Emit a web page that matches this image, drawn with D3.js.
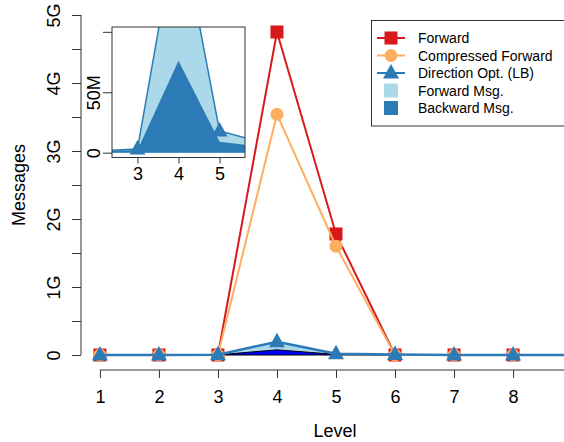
<!DOCTYPE html>
<html>
<head>
<meta charset="utf-8">
<script src="https://cdn.jsdelivr.net/npm/d3@7"></script>
<style>
  body { margin: 0; background: #fff; }
  svg { display: block; font-family: "Liberation Sans", Arial, sans-serif; }
</style>
</head>
<body>
<svg id="chart" width="564" height="442"></svg>
<script>
// values (messages per BFS level)
var levels = [1, 2, 3, 4, 5, 6, 7, 8, 9];
var forward = [0, 0, 0, 4.75e9, 1.78e9, 0, 0, 0, 0];
var compressed = [0, 0, 0, 3.54e9, 1.6e9, 0, 0, 0, 0];
var dirOpt = [1e6, 1.5e6, 3e6, 196e6, 18e6, 9e6, 0, 0, 0];
var fwdMsg = [0, 0, 1e6, 120e6, 9e6, 4e6, 0, 0, 0];
var bwdMsg = [1e6, 1.5e6, 2e6, 76e6, 9e6, 5e6, 0, 0, 0];

var mainXTicks = [1, 2, 3, 4, 5, 6, 7, 8];
var mainYTicks = [0, 0.5e9, 1e9, 1.5e9, 2e9, 2.5e9, 3e9, 3.5e9, 4e9, 4.5e9, 5e9];
var mainYLabels = { 0: "0", 1e9: "1G", 2e9: "2G", 3e9: "3G", 4e9: "4G", 5e9: "5G" };
var insetXTicks = [3, 4, 5];
var insetYTicks = [0, 50e6, 100e6];
var insetYLabels = { 0: "0", 50e6: "50M" };

var legendItems = [
  { label: "Forward", color: "#D7191C", kind: "square" },
  { label: "Compressed Forward", color: "#FDAE61", kind: "circle" },
  { label: "Direction Opt. (LB)", color: "#2C7BB6", kind: "triangle" },
  { label: "Forward Msg.", color: "#ABD9E9", kind: "fill" },
  { label: "Backward Msg.", color: "#2C7BB6", kind: "fill" }
];

var svg = d3.select("#chart");
var axisColor = "#333";

var x = d3.scaleLinear().domain([0.68, 9.32]).range([81, 591]);
var y = d3.scaleLinear().domain([-0.2e9, 5.2e9]).range([368.6, 1.4]);

var rows = levels.map(function (l, i) {
  return { level: l, fwd: forward[i], comp: compressed[i], dir: dirOpt[i], fm: fwdMsg[i], bm: bwdMsg[i] };
});
var stacked = d3.stack().keys(["bm", "fm"])(rows);

var triPath = "M0,-9L8,5.5L-8,5.5Z";

function drawSeries(g, xs, ys, key, color, width, kind, size) {
  g.append("path")
      .datum(rows)
      .attr("fill", "none")
      .attr("stroke", color)
      .attr("stroke-width", width)
      .attr("d", d3.line().x(function (d) { return xs(d.level); }).y(function (d) { return ys(d[key]); }));
  var pts = g.selectAll(null).data(rows).enter();
  if (kind === "square") {
    pts.append("rect")
        .attr("x", function (d) { return xs(d.level) - size / 2; })
        .attr("y", function (d) { return ys(d[key]) - size / 2; })
        .attr("width", size).attr("height", size)
        .attr("fill", color);
  } else if (kind === "circle") {
    pts.append("circle")
        .attr("cx", function (d) { return xs(d.level); })
        .attr("cy", function (d) { return ys(d[key]); })
        .attr("r", size / 2)
        .attr("fill", color);
  } else {
    pts.append("path")
        .attr("d", triPath)
        .attr("transform", function (d) { return "translate(" + xs(d.level) + "," + ys(d[key]) + ")"; })
        .attr("fill", color);
  }
}

function drawAreas(g, xs, ys, darkFill, darkStroke) {
  g.append("path")
      .datum(stacked[1])
      .attr("fill", "#ABD9E9")
      .attr("d", d3.area()
          .x(function (d) { return xs(d.data.level); })
          .y0(ys(0))
          .y1(function (d) { return ys(d[1]); }));
  g.append("path")
      .datum(stacked[0])
      .attr("fill", darkFill)
      .attr("stroke", darkStroke)
      .attr("stroke-width", 1)
      .attr("d", d3.area()
          .x(function (d) { return xs(d.data.level); })
          .y0(ys(0))
          .y1(function (d) { return ys(d[1]); }));
}

// main plot
var main = svg.append("g");
drawAreas(main, x, y, "#0000FF", "#000");
drawSeries(main, x, y, "fwd", "#D7191C", 2, "square", 13);
drawSeries(main, x, y, "comp", "#FDAE61", 2, "circle", 13);
drawSeries(main, x, y, "dir", "#2C7BB6", 2.5, "triangle", 0);

// main axes
var yAxis = svg.append("g")
    .attr("transform", "translate(81,0)")
    .call(d3.axisLeft(y).tickValues(mainYTicks).tickSize(9).tickPadding(0)
        .tickFormat(function (d) { return mainYLabels[d] || ""; }));
yAxis.select(".domain").remove();
yAxis.append("line")
    .attr("x1", 0).attr("x2", 0)
    .attr("y1", y(0)).attr("y2", y(5e9))
    .attr("stroke", axisColor);
yAxis.selectAll(".tick line").attr("stroke", axisColor);
yAxis.selectAll(".tick text")
    .attr("x", 0).attr("y", -21.5).attr("dy", 0)
    .attr("transform", "rotate(-90)")
    .style("text-anchor", "middle")
    .style("font-size", "18px")
    .style("font-family", "Liberation Sans, Arial, sans-serif")
    .attr("fill", "#000");

var xAxis = svg.append("g")
    .attr("transform", "translate(0,370)")
    .call(d3.axisBottom(x).tickValues(mainXTicks).tickSize(8).tickFormat(d3.format("d")));
xAxis.select(".domain").remove();
xAxis.append("line")
    .attr("x1", x(1)).attr("x2", x(9))
    .attr("y1", 0).attr("y2", 0)
    .attr("stroke", axisColor);
xAxis.selectAll(".tick line").attr("stroke", axisColor);
xAxis.selectAll(".tick text")
    .attr("y", 32.5).attr("dy", 0)
    .style("font-size", "18px")
    .style("font-family", "Liberation Sans, Arial, sans-serif")
    .attr("fill", "#000");

svg.append("text")
    .attr("x", 335).attr("y", 436.5)
    .attr("text-anchor", "middle")
    .style("font-size", "18px")
    .text("Level");

svg.append("text")
    .attr("transform", "translate(24.5,185) rotate(-90)")
    .attr("text-anchor", "middle")
    .style("font-size", "18px")
    .text("Messages");

// inset zoom on levels 3-5
var xi = d3.scaleLinear().domain([2.38, 5.62]).range([112, 245]);
var yi = d3.scaleLinear().domain([-4e6, 104e6]).range([157.5, 27]);

svg.append("rect")
    .attr("x", 112).attr("y", 27).attr("width", 133).attr("height", 130.5)
    .attr("fill", "#fff");

svg.append("clipPath").attr("id", "insetClip")
  .append("rect")
    .attr("x", 112).attr("y", 27).attr("width", 133).attr("height", 130.5);

var inset = svg.append("g").attr("clip-path", "url(#insetClip)");
drawAreas(inset, xi, yi, "#2C7BB6", "none");
drawSeries(inset, xi, yi, "dir", "#2C7BB6", 1.5, "triangle", 0);

svg.append("rect")
    .attr("x", 112).attr("y", 27).attr("width", 133).attr("height", 130.5)
    .attr("fill", "none")
    .attr("stroke", axisColor);

var yiAxis = svg.append("g")
    .attr("transform", "translate(112,0)")
    .call(d3.axisLeft(yi).tickValues(insetYTicks).tickSize(9)
        .tickFormat(function (d) { return insetYLabels[d] || ""; }));
yiAxis.select(".domain").remove();
yiAxis.selectAll(".tick line").attr("stroke", axisColor);
yiAxis.selectAll(".tick text")
    .attr("x", 0).attr("y", -12.5).attr("dy", 0)
    .attr("transform", "rotate(-90)")
    .style("text-anchor", "middle")
    .style("font-size", "18px")
    .style("font-family", "Liberation Sans, Arial, sans-serif")
    .attr("fill", "#000");

var xiAxis = svg.append("g")
    .attr("transform", "translate(0,157.5)")
    .call(d3.axisBottom(xi).tickValues(insetXTicks).tickSize(6).tickFormat(d3.format("d")));
xiAxis.select(".domain").remove();
xiAxis.selectAll(".tick line").attr("stroke", axisColor);
xiAxis.selectAll(".tick text")
    .attr("y", 22).attr("dy", 0)
    .style("font-size", "18px")
    .style("font-family", "Liberation Sans, Arial, sans-serif")
    .attr("fill", "#000");

// legend
var legend = svg.append("g");
legend.append("rect")
    .attr("x", 371.5).attr("y", 20.5).attr("width", 220).attr("height", 105.5)
    .attr("fill", "#fff")
    .attr("stroke", axisColor);

var item = legend.selectAll("g.item")
    .data(legendItems)
  .enter().append("g")
    .attr("class", "item")
    .attr("transform", function (d, i) { return "translate(391," + (38 + i * 17.5) + ")"; });

item.each(function (d) {
  var g = d3.select(this);
  if (d.kind === "fill") {
    g.append("rect")
        .attr("x", -7).attr("y", -7).attr("width", 14).attr("height", 14)
        .attr("fill", d.color);
    return;
  }
  g.append("line")
      .attr("x1", -14).attr("x2", 14)
      .attr("stroke", d.color).attr("stroke-width", 2);
  if (d.kind === "square") {
    g.append("rect").attr("x", -6.5).attr("y", -6.5).attr("width", 13).attr("height", 13).attr("fill", d.color);
  } else if (d.kind === "circle") {
    g.append("circle").attr("r", 6.5).attr("fill", d.color);
  } else {
    g.append("path").attr("d", triPath).attr("fill", d.color);
  }
});

item.append("text")
    .attr("x", 27).attr("y", 5)
    .style("font-size", "14px")
    .text(function (d) { return d.label; });
</script>
</body>
</html>
